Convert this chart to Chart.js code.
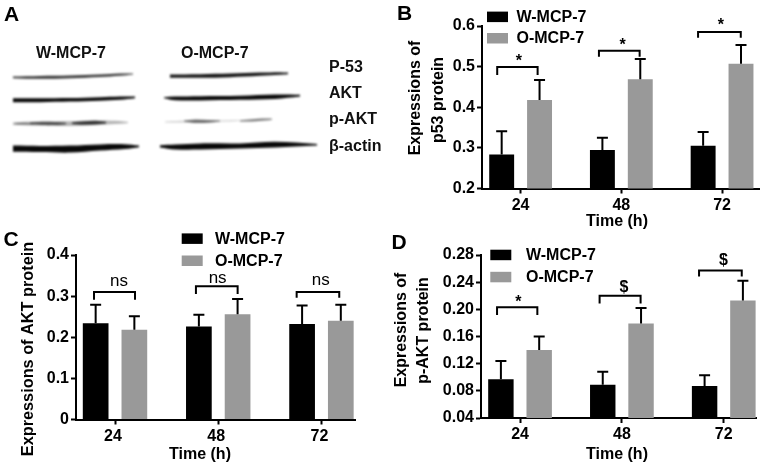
<!DOCTYPE html>
<html><head><meta charset="utf-8">
<script src="https://cdn.jsdelivr.net/npm/chart.js@4"></script>
<style>
html,body{margin:0;padding:0;background:#fff;width:765px;height:469px;overflow:hidden}
canvas{position:absolute;left:0;top:0}
#a{filter:blur(0.8px)}
.t{position:absolute;font:bold 16px "Liberation Sans",Arial,sans-serif;color:#111;line-height:20px;white-space:nowrap}
.l{font-size:21px;line-height:24px;color:#000}
</style></head><body>
<canvas id="a" width="765" height="469"></canvas>
<canvas id="b" width="765" height="469"></canvas>
<canvas id="c" width="765" height="469"></canvas>
<canvas id="d" width="765" height="469"></canvas>
<div class="t l" style="left:4px;top:2px">A</div>
<div class="t" style="left:36px;top:43px">W-MCP-7</div>
<div class="t" style="left:181px;top:43px">O-MCP-7</div>
<div class="t" style="left:329px;top:57px">P-53</div>
<div class="t" style="left:329px;top:83px">AKT</div>
<div class="t" style="left:329px;top:109px">p-AKT</div>
<div class="t" style="left:329px;top:136px">β-actin</div>
<script>
// ---- data ----
const hours = [24, 48, 72];
const series = ['W-MCP-7', 'O-MCP-7'];
const colors = ['#000000', '#999999'];

const p53W = [0.284, 0.295, 0.305];
const p53O = [0.418, 0.469, 0.507];
const p53WTop = [0.341, 0.325, 0.339];
const p53OTop = [0.467, 0.519, 0.553];

const aktW = [0.234, 0.226, 0.232];
const aktO = [0.218, 0.256, 0.240];
const aktWTop = [0.279, 0.255, 0.277];
const aktOTop = [0.251, 0.293, 0.279];

const pAktW = [0.097, 0.089, 0.087];
const pAktO = [0.140, 0.179, 0.213];
const pAktWTop = [0.124, 0.108, 0.103];
const pAktOTop = [0.160, 0.202, 0.242];

const p53Marks = ['*', '*', '*'];
const aktMarks = ['ns', 'ns', 'ns'];
const pAktMarks = ['*', '$', '$'];
const p53Brackets = [0.499, 0.539, 0.585];
const aktBrackets = [0.310, 0.324, 0.310];
const pAktBrackets = [0.203, 0.220, 0.257];

// Western blot bands of panel A (horizontal position, upper edge, lower edge)
const blotBands = [
  {name:'P-53 W', alpha:.82, x:[13,40,70,100,120,133], top:[76.6,76.0,75.6,74.6,73.6,73.6], bot:[78.2,78.8,78.2,77.0,75.8,74.4]},
  {name:'P-53 O', alpha:.95, x:[170,200,230,260,280,288], top:[74.4,74.2,73.6,72.6,72.2,72.6], bot:[77.8,77.8,77.2,75.8,74.8,74.2]},
  {name:'AKT W', alpha:1, x:[13,40,70,100,120,135], top:[98.2,98.2,98.0,97.2,96.4,96.6], bot:[102.2,102.2,101.6,100.8,99.8,98.2]},
  {name:'AKT O', alpha:1, x:[164,175,200,240,275,300], top:[97.2,96.6,96.2,95.8,94.6,94.8], bot:[98.2,100.2,100.4,99.8,99.0,96.6]},
  {name:'p-AKT W haze', alpha:.3, x:[13,40,70,100,120,128], top:[122.4,121.6,121.2,120.4,121.0,122.0], bot:[125.0,125.6,126.0,124.8,123.8,123.0]},
  {name:'p-AKT W s1', alpha:.6, x:[30,42,55,66], top:[122.6,121.8,122.0,122.8], bot:[124.0,125.0,125.0,124.2]},
  {name:'p-AKT W s2', alpha:.75, x:[72,84,96,106], top:[122.4,121.2,120.8,121.8], bot:[124.0,124.8,124.6,123.6]},
  {name:'p-AKT W s3', alpha:.4, x:[15,24,34], top:[123.2,122.8,123.2], bot:[124.2,124.6,124.2]},
  {name:'p-AKT O1', alpha:.55, x:[184,195,208,220], top:[120.6,119.6,120.0,120.6], bot:[121.6,123.0,122.8,121.6]},
  {name:'p-AKT O2', alpha:.55, x:[240,252,265,272], top:[120.2,119.2,118.6,118.8], bot:[121.4,121.4,120.6,119.8]},
  {name:'p-AKT O3', alpha:.2, x:[165,180,225,240], top:[121.6,120.8,120.2,120.0], bot:[122.4,122.6,121.6,120.8]},
  {name:'actin W', alpha:1, x:[13,40,70,100,125,139], top:[145.6,146.0,145.6,144.4,144.2,145.6], bot:[151.8,152.0,152.6,150.6,149.0,147.2]},
  {name:'actin O', alpha:1, x:[160,175,200,240,275,317], top:[145.2,144.6,143.4,143.4,141.8,144.0], bot:[147.4,149.4,149.6,148.6,147.6,145.6]}
];

const FONT = '"Liberation Sans", Arial, sans-serif';
const bold16 = {family: FONT, size: 16, weight: 'bold'};

// ---- error bars, brackets, legend and free text ----
const decor = {
  id: 'decor',
  afterDatasetsDraw(chart, _a, o) {
    if (!o.on) return;
    const {ctx, scales:{x, y}} = chart;
    ctx.save();
    ctx.strokeStyle = '#000'; ctx.lineWidth = 2; ctx.lineCap = 'butt';
    chart.data.datasets.forEach((ds, i) => {
      chart.getDatasetMeta(i).data.forEach((bar, j) => {
        const t = y.getPixelForValue(ds.tops[j]);
        ctx.beginPath();
        ctx.moveTo(bar.x, bar.y); ctx.lineTo(bar.x, t);
        ctx.moveTo(bar.x - 5.5, t); ctx.lineTo(bar.x + 5.5, t);
        ctx.stroke();
      });
    });
    // brackets
    o.brackets.forEach((val, j) => {
      const g = o.shape[j], cx = x.getPixelForValue(hours[j]), py = y.getPixelForValue(val);
      ctx.lineJoin = 'miter';
      ctx.beginPath();
      ctx.moveTo(cx + g[0], py + g[2]); ctx.lineTo(cx + g[0], py);
      ctx.lineTo(cx + g[1], py); ctx.lineTo(cx + g[1], py + g[2]);
      ctx.stroke();
      const m = o.marks[j];
      ctx.fillStyle = '#000';
      ctx.font = (m === 'ns' ? '17px ' : 'bold 16px ') + FONT;
      ctx.textAlign = 'center'; ctx.textBaseline = 'middle';
      ctx.fillText(m, cx + g[3], py + g[4]);
    });
    // legend
    const lg = o.legend;
    chart.data.datasets.forEach((ds, i) => {
      ctx.fillStyle = ds.backgroundColor;
      ctx.fillRect(lg.x, lg.y[i], lg.w, lg.h);
      ctx.fillStyle = '#000';
      ctx.font = 'bold 16px ' + FONT;
      ctx.textAlign = 'left'; ctx.textBaseline = 'middle';
      ctx.fillText(ds.label, lg.tx, lg.y[i] + lg.h / 2 + 0.5);
    });
    // free text
    o.texts.forEach(t => {
      ctx.save();
      ctx.translate(t.x, t.y);
      if (t.rot) ctx.rotate(-Math.PI / 2);
      ctx.fillStyle = '#000';
      ctx.font = (t.size ? 'bold ' + t.size + 'px ' : 'bold 16px ') + FONT;
      ctx.textAlign = 'center'; ctx.textBaseline = 'middle';
      ctx.fillText(t.s, 0, 0);
      ctx.restore();
    });
    ctx.restore();
  }
};

function barChart(id, c) {
  const yW = 50, xH = 30;
  return new Chart(document.getElementById(id), {
    type: 'bar',
    data: {datasets: [
      {label: series[0], backgroundColor: colors[0], tops: c.tops[0], data: hours.map((h, i) => ({x: h, y: c.vals[0][i]}))},
      {label: series[1], backgroundColor: colors[1], tops: c.tops[1], data: hours.map((h, i) => ({x: h, y: c.vals[1][i]}))}
    ]},
    plugins: [decor],
    options: {
      responsive: false, animation: false,
      categoryPercentage: c.cat, barPercentage: c.bar,
      layout: {padding: {left: c.L - yW, right: 765 - c.R, top: c.T, bottom: 469 - c.B - xH}},
      plugins: {legend: {display: false}, tooltip: {enabled: false},
        decor: {on: true, brackets: c.brackets, marks: c.marks, shape: c.shape, legend: c.legend, texts: c.texts}},
      scales: {
        x: {type: 'linear', offset: false, min: c.xMin, max: c.xMax,
          afterBuildTicks(ax) { ax.ticks = hours.map(v => ({value: v})); },
          afterFit(s) { s.height = xH; },
          grid: {offset: false, drawOnChartArea: false, drawTicks: true, tickLength: 5, tickWidth: 2, tickColor: '#000'},
          border: {display: true, color: '#000', width: 2},
          ticks: {color: '#000', font: bold16, padding: 2, maxRotation: 0, autoSkip: false, labelOffset: c.lo || 0}},
        y: {min: c.yMin, max: c.yMax,
          afterFit(s) { s.width = yW; },
          grid: {drawOnChartArea: false, drawTicks: true, tickLength: 5, tickWidth: 2, tickColor: '#000'},
          border: {display: true, color: '#000', width: 2},
          ticks: {color: '#000', font: bold16, padding: 2, stepSize: c.step, autoSkip: false}}
      }
    }
  });
}

barChart('b', {
  vals: [p53W, p53O], tops: [p53WTop, p53OTop],
  L: 482, R: 759, T: 26, B: 188.5, xMin: 14.8, xMax: 80.8, cat: .752, bar: .658,
  yMin: .2, yMax: .6, step: .1,
  brackets: p53Brackets, marks: p53Marks,
  shape: [[-23.4, 17, 8, -1.7, -5], [-22.4, 18.3, 6, 1.3, -5], [-24, 18.7, 5.7, -1.3, -7]],
  legend: {x: 487, w: 21, h: 10.5, y: [11.6, 33], tx: 516.5},
  texts: [
    {s: 'B', x: 404.5, y: 14, size: 21},
    {s: 'Expressions of', x: 415.7, y: 98, rot: 1},
    {s: 'p53 protein', x: 438.3, y: 100, rot: 1},
    {s: 'Time (h)', x: 617, y: 222}
  ]
});

barChart('c', {
  vals: [aktW, aktO], tops: [aktWTop, aktOTop],
  L: 76, R: 355, T: 255, B: 419.5, xMin: 14.93, xMax: 79.8, cat: .75, bar: .664, lo: -2,
  yMin: 0, yMax: .4, step: .1,
  brackets: aktBrackets, marks: aktMarks,
  shape: [[-21, 20, 7.7, 4, -11], [-22.3, 19.4, 7.7, -.6, -8], [-24.8, 17.8, 5.7, -.8, -12]],
  legend: {x: 181.7, w: 21, h: 10.5, y: [233.4, 255.5], tx: 215},
  texts: [
    {s: 'C', x: 11, y: 240, size: 21},
    {s: 'Expressions of AKT protein', x: 28.5, y: 349, rot: 1, size: 16.3},
    {s: 'Time (h)', x: 200, y: 455}
  ]
});

barChart('d', {
  vals: [pAktW, pAktO], tops: [pAktWTop, pAktOTop],
  L: 481, R: 756, T: 255, B: 418, xMin: 14.8, xMax: 79.6, cat: .752, bar: .664,
  yMin: .04, yMax: .28, step: .04,
  brackets: pAktBrackets, marks: pAktMarks,
  shape: [[-23, 17.3, 7.7, -1.7, -5], [-22.3, 18.7, 7.7, 2, -8], [-24.7, 18, 6, -.4, -10]],
  legend: {x: 490.3, w: 21, h: 10.5, y: [249.7, 271.8], tx: 526},
  texts: [
    {s: 'D', x: 399, y: 243, size: 21},
    {s: 'Expressions of', x: 401.7, y: 330, rot: 1},
    {s: 'p-AKT protein', x: 424, y: 330.5, rot: 1},
    {s: 'Time (h)', x: 617, y: 455}
  ]
});

// Panel A: each band is the area between its upper and lower edge
const blotSets = [];
blotBands.forEach(b => {
  const col = 'rgba(8,8,8,' + b.alpha + ')';
  blotSets.push({label: b.name, data: b.x.map((v, i) => ({x: v, y: b.top[i]})), fill: '+1',
    backgroundColor: col, borderWidth: 0, pointRadius: 0, tension: .35});
  blotSets.push({label: b.name + ' edge', data: b.x.map((v, i) => ({x: v, y: b.bot[i]})), fill: false,
    borderWidth: 0, pointRadius: 0, tension: .35});
});
new Chart(document.getElementById('a'), {
  type: 'line',
  data: {datasets: blotSets},
  options: {
    responsive: false, animation: false,
    plugins: {legend: {display: false}, tooltip: {enabled: false}},
    scales: {
      x: {type: 'linear', display: false, min: 0, max: 765},
      y: {type: 'linear', display: false, min: 0, max: 469, reverse: true}
    }
  }
});
</script>
</body></html>
